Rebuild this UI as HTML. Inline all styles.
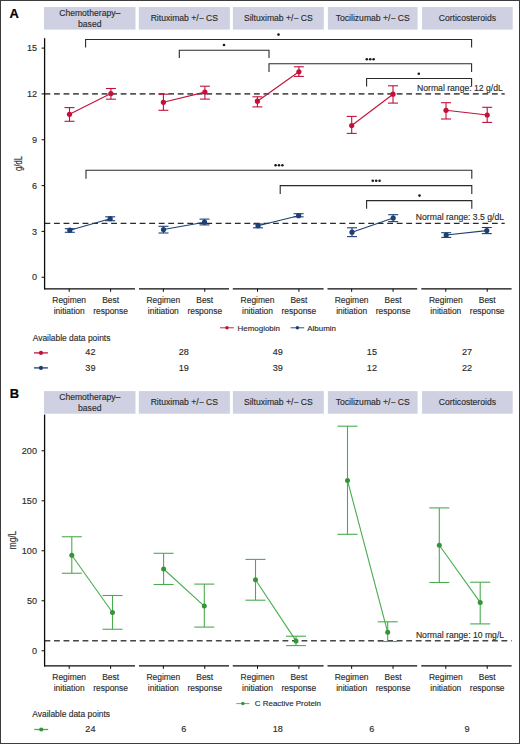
<!DOCTYPE html>
<html><head><meta charset="utf-8"><style>
html,body{margin:0;padding:0;background:#fff;}
.wrap{position:relative;width:520px;height:744px;box-sizing:border-box;border:1px solid #3c3c3c;overflow:hidden;background:#fff;}
svg{position:absolute;left:-1px;top:-1px;}
text{font-family:"Liberation Sans", sans-serif;fill:#2b2b2b;stroke:#2b2b2b;stroke-width:0.14px;}
.st{font-size:8.6px;}
.ax{font-size:8.45px;}
.tk{font-size:9.1px;}
.ttl{font-size:10.8px;}
.lg{font-size:7.95px;}
.nr{font-size:8.65px;}
.lab{font-size:12.9px;font-weight:bold;fill:#000;stroke:#000;stroke-width:0.2px;}
</style></head><body><div class="wrap">
<svg width="520" height="744" viewBox="0 0 520 744">
<text x="9.4" y="17.9" class="lab">A</text>
<rect x="44.00" y="7.05" width="91.50" height="22.55" fill="#cfd1e3"/>
<text x="89.75" y="16.25" text-anchor="middle" class="st">Chemotherapy–</text>
<text x="89.75" y="26.65" text-anchor="middle" class="st">based</text>
<rect x="138.80" y="7.05" width="91.10" height="22.55" fill="#cfd1e3"/>
<text x="184.35" y="20.95" text-anchor="middle" class="st">Rituximab +/− CS</text>
<rect x="232.90" y="7.05" width="90.90" height="22.55" fill="#cfd1e3"/>
<text x="278.35" y="20.95" text-anchor="middle" class="st">Siltuximab +/− CS</text>
<rect x="327.90" y="7.05" width="89.70" height="22.55" fill="#cfd1e3"/>
<text x="372.75" y="20.95" text-anchor="middle" class="st">Tocilizumab +/− CS</text>
<rect x="422.00" y="7.05" width="90.70" height="22.55" fill="#cfd1e3"/>
<text x="467.35" y="20.95" text-anchor="middle" class="st">Corticosteroids</text>
<line x1="44.5" y1="93.92" x2="504.7" y2="93.92" stroke="#555" stroke-width="1.6" stroke-dasharray="5.8 3.72"/>
<line x1="44.5" y1="223.35" x2="504.7" y2="223.35" stroke="#2a2a2a" stroke-width="1.2" stroke-dasharray="5.8 3.72"/>
<text x="417" y="90.6" class="nr">Normal range: 12 g/dL</text>
<text x="415.8" y="220.1" class="nr">Normal range: 3.5 g/dL</text>
<path d="M85.6 47.6V39.5H471.6V47.6" fill="none" stroke="#2a2a2a" stroke-width="1.1"/>
<circle cx="278.50" cy="34.6" r="1.3" fill="#1a1a1a"/>
<path d="M179.3 58.0V50.2H269V58.0" fill="none" stroke="#2a2a2a" stroke-width="1.1"/>
<circle cx="224.00" cy="45" r="1.3" fill="#1a1a1a"/>
<path d="M269 72.10000000000001V63.7H471.6V72.10000000000001" fill="none" stroke="#2a2a2a" stroke-width="1.1"/>
<circle cx="366.80" cy="59.3" r="1.3" fill="#1a1a1a"/>
<circle cx="370.20" cy="59.3" r="1.3" fill="#1a1a1a"/>
<circle cx="373.60" cy="59.3" r="1.3" fill="#1a1a1a"/>
<path d="M366.6 86.5V78.5H471.6V86.5" fill="none" stroke="#2a2a2a" stroke-width="1.1"/>
<circle cx="418.80" cy="73.7" r="1.3" fill="#1a1a1a"/>
<path d="M86.0 178.8V170.3H471.8V178.8" fill="none" stroke="#2a2a2a" stroke-width="1.1"/>
<circle cx="275.60" cy="165.2" r="1.3" fill="#1a1a1a"/>
<circle cx="279.00" cy="165.2" r="1.3" fill="#1a1a1a"/>
<circle cx="282.40" cy="165.2" r="1.3" fill="#1a1a1a"/>
<path d="M280.2 194.0V185.6H471.8V194.0" fill="none" stroke="#2a2a2a" stroke-width="1.1"/>
<circle cx="372.80" cy="180.8" r="1.3" fill="#1a1a1a"/>
<circle cx="376.20" cy="180.8" r="1.3" fill="#1a1a1a"/>
<circle cx="379.60" cy="180.8" r="1.3" fill="#1a1a1a"/>
<path d="M366.6 208.79999999999998V200.6H471.8V208.79999999999998" fill="none" stroke="#2a2a2a" stroke-width="1.1"/>
<circle cx="419.50" cy="195.6" r="1.3" fill="#1a1a1a"/>
<line x1="69.50" y1="107.6" x2="69.50" y2="121.3" stroke="#c3103a" stroke-width="1.1"/>
<line x1="64.50" y1="107.6" x2="74.50" y2="107.6" stroke="#c3103a" stroke-width="1.1"/>
<line x1="64.50" y1="121.3" x2="74.50" y2="121.3" stroke="#c3103a" stroke-width="1.1"/>
<line x1="110.90" y1="88.5" x2="110.90" y2="99.2" stroke="#c3103a" stroke-width="1.1"/>
<line x1="105.90" y1="88.5" x2="115.90" y2="88.5" stroke="#c3103a" stroke-width="1.1"/>
<line x1="105.90" y1="99.2" x2="115.90" y2="99.2" stroke="#c3103a" stroke-width="1.1"/>
<line x1="69.50" y1="114.3" x2="110.90" y2="93.6" stroke="#c3103a" stroke-width="1.1"/>
<circle cx="69.50" cy="114.3" r="2.6" fill="#c3103a"/>
<circle cx="110.90" cy="93.6" r="2.6" fill="#c3103a"/>
<line x1="163.40" y1="94.2" x2="163.40" y2="110.3" stroke="#c3103a" stroke-width="1.1"/>
<line x1="158.40" y1="94.2" x2="168.40" y2="94.2" stroke="#c3103a" stroke-width="1.1"/>
<line x1="158.40" y1="110.3" x2="168.40" y2="110.3" stroke="#c3103a" stroke-width="1.1"/>
<line x1="204.90" y1="86.2" x2="204.90" y2="99.1" stroke="#c3103a" stroke-width="1.1"/>
<line x1="199.90" y1="86.2" x2="209.90" y2="86.2" stroke="#c3103a" stroke-width="1.1"/>
<line x1="199.90" y1="99.1" x2="209.90" y2="99.1" stroke="#c3103a" stroke-width="1.1"/>
<line x1="163.40" y1="102.3" x2="204.90" y2="92.1" stroke="#c3103a" stroke-width="1.1"/>
<circle cx="163.40" cy="102.3" r="2.6" fill="#c3103a"/>
<circle cx="204.90" cy="92.1" r="2.6" fill="#c3103a"/>
<line x1="257.40" y1="96.8" x2="257.40" y2="106.9" stroke="#c3103a" stroke-width="1.1"/>
<line x1="252.40" y1="96.8" x2="262.40" y2="96.8" stroke="#c3103a" stroke-width="1.1"/>
<line x1="252.40" y1="106.9" x2="262.40" y2="106.9" stroke="#c3103a" stroke-width="1.1"/>
<line x1="298.90" y1="66.8" x2="298.90" y2="76.4" stroke="#c3103a" stroke-width="1.1"/>
<line x1="293.90" y1="66.8" x2="303.90" y2="66.8" stroke="#c3103a" stroke-width="1.1"/>
<line x1="293.90" y1="76.4" x2="303.90" y2="76.4" stroke="#c3103a" stroke-width="1.1"/>
<line x1="257.40" y1="101.2" x2="298.90" y2="71.8" stroke="#c3103a" stroke-width="1.1"/>
<circle cx="257.40" cy="101.2" r="2.6" fill="#c3103a"/>
<circle cx="298.90" cy="71.8" r="2.6" fill="#c3103a"/>
<line x1="351.70" y1="116.4" x2="351.70" y2="133.4" stroke="#c3103a" stroke-width="1.1"/>
<line x1="346.70" y1="116.4" x2="356.70" y2="116.4" stroke="#c3103a" stroke-width="1.1"/>
<line x1="346.70" y1="133.4" x2="356.70" y2="133.4" stroke="#c3103a" stroke-width="1.1"/>
<line x1="393.00" y1="85.8" x2="393.00" y2="103.1" stroke="#c3103a" stroke-width="1.1"/>
<line x1="388.00" y1="85.8" x2="398.00" y2="85.8" stroke="#c3103a" stroke-width="1.1"/>
<line x1="388.00" y1="103.1" x2="398.00" y2="103.1" stroke="#c3103a" stroke-width="1.1"/>
<line x1="351.70" y1="125.5" x2="393.00" y2="94.2" stroke="#c3103a" stroke-width="1.1"/>
<circle cx="351.70" cy="125.5" r="2.6" fill="#c3103a"/>
<circle cx="393.00" cy="94.2" r="2.6" fill="#c3103a"/>
<line x1="446.00" y1="102.7" x2="446.00" y2="119" stroke="#c3103a" stroke-width="1.1"/>
<line x1="441.00" y1="102.7" x2="451.00" y2="102.7" stroke="#c3103a" stroke-width="1.1"/>
<line x1="441.00" y1="119" x2="451.00" y2="119" stroke="#c3103a" stroke-width="1.1"/>
<line x1="487.20" y1="107.3" x2="487.20" y2="122.4" stroke="#c3103a" stroke-width="1.1"/>
<line x1="482.20" y1="107.3" x2="492.20" y2="107.3" stroke="#c3103a" stroke-width="1.1"/>
<line x1="482.20" y1="122.4" x2="492.20" y2="122.4" stroke="#c3103a" stroke-width="1.1"/>
<line x1="446.00" y1="110.3" x2="487.20" y2="115" stroke="#c3103a" stroke-width="1.1"/>
<circle cx="446.00" cy="110.3" r="2.6" fill="#c3103a"/>
<circle cx="487.20" cy="115" r="2.6" fill="#c3103a"/>
<line x1="69.80" y1="228.7" x2="69.80" y2="232.3" stroke="#1e3f76" stroke-width="1.1"/>
<line x1="64.80" y1="228.7" x2="74.80" y2="228.7" stroke="#1e3f76" stroke-width="1.1"/>
<line x1="64.80" y1="232.3" x2="74.80" y2="232.3" stroke="#1e3f76" stroke-width="1.1"/>
<line x1="110.20" y1="216.8" x2="110.20" y2="220.7" stroke="#1e3f76" stroke-width="1.1"/>
<line x1="105.20" y1="216.8" x2="115.20" y2="216.8" stroke="#1e3f76" stroke-width="1.1"/>
<line x1="105.20" y1="220.7" x2="115.20" y2="220.7" stroke="#1e3f76" stroke-width="1.1"/>
<line x1="69.80" y1="230.2" x2="110.20" y2="218.7" stroke="#1e3f76" stroke-width="1.1"/>
<circle cx="69.80" cy="230.2" r="2.6" fill="#1e3f76"/>
<circle cx="110.20" cy="218.7" r="2.6" fill="#1e3f76"/>
<line x1="163.50" y1="226.3" x2="163.50" y2="233" stroke="#1e3f76" stroke-width="1.1"/>
<line x1="158.50" y1="226.3" x2="168.50" y2="226.3" stroke="#1e3f76" stroke-width="1.1"/>
<line x1="158.50" y1="233" x2="168.50" y2="233" stroke="#1e3f76" stroke-width="1.1"/>
<line x1="204.50" y1="219.1" x2="204.50" y2="224.9" stroke="#1e3f76" stroke-width="1.1"/>
<line x1="199.50" y1="219.1" x2="209.50" y2="219.1" stroke="#1e3f76" stroke-width="1.1"/>
<line x1="199.50" y1="224.9" x2="209.50" y2="224.9" stroke="#1e3f76" stroke-width="1.1"/>
<line x1="163.50" y1="229.5" x2="204.50" y2="222.2" stroke="#1e3f76" stroke-width="1.1"/>
<circle cx="163.50" cy="229.5" r="2.6" fill="#1e3f76"/>
<circle cx="204.50" cy="222.2" r="2.6" fill="#1e3f76"/>
<line x1="258.00" y1="224" x2="258.00" y2="227.8" stroke="#1e3f76" stroke-width="1.1"/>
<line x1="253.00" y1="224" x2="263.00" y2="224" stroke="#1e3f76" stroke-width="1.1"/>
<line x1="253.00" y1="227.8" x2="263.00" y2="227.8" stroke="#1e3f76" stroke-width="1.1"/>
<line x1="298.60" y1="213.7" x2="298.60" y2="216.8" stroke="#1e3f76" stroke-width="1.1"/>
<line x1="293.60" y1="213.7" x2="303.60" y2="213.7" stroke="#1e3f76" stroke-width="1.1"/>
<line x1="293.60" y1="216.8" x2="303.60" y2="216.8" stroke="#1e3f76" stroke-width="1.1"/>
<line x1="258.00" y1="225.7" x2="298.60" y2="215.7" stroke="#1e3f76" stroke-width="1.1"/>
<circle cx="258.00" cy="225.7" r="2.6" fill="#1e3f76"/>
<circle cx="298.60" cy="215.7" r="2.6" fill="#1e3f76"/>
<line x1="352.00" y1="227.8" x2="352.00" y2="236.6" stroke="#1e3f76" stroke-width="1.1"/>
<line x1="347.00" y1="227.8" x2="357.00" y2="227.8" stroke="#1e3f76" stroke-width="1.1"/>
<line x1="347.00" y1="236.6" x2="357.00" y2="236.6" stroke="#1e3f76" stroke-width="1.1"/>
<line x1="393.20" y1="214.7" x2="393.20" y2="221.6" stroke="#1e3f76" stroke-width="1.1"/>
<line x1="388.20" y1="214.7" x2="398.20" y2="214.7" stroke="#1e3f76" stroke-width="1.1"/>
<line x1="388.20" y1="221.6" x2="398.20" y2="221.6" stroke="#1e3f76" stroke-width="1.1"/>
<line x1="352.00" y1="232.2" x2="393.20" y2="218" stroke="#1e3f76" stroke-width="1.1"/>
<circle cx="352.00" cy="232.2" r="2.6" fill="#1e3f76"/>
<circle cx="393.20" cy="218" r="2.6" fill="#1e3f76"/>
<line x1="446.20" y1="232.7" x2="446.20" y2="237.4" stroke="#1e3f76" stroke-width="1.1"/>
<line x1="441.20" y1="232.7" x2="451.20" y2="232.7" stroke="#1e3f76" stroke-width="1.1"/>
<line x1="441.20" y1="237.4" x2="451.20" y2="237.4" stroke="#1e3f76" stroke-width="1.1"/>
<line x1="486.80" y1="227.5" x2="486.80" y2="233.6" stroke="#1e3f76" stroke-width="1.1"/>
<line x1="481.80" y1="227.5" x2="491.80" y2="227.5" stroke="#1e3f76" stroke-width="1.1"/>
<line x1="481.80" y1="233.6" x2="491.80" y2="233.6" stroke="#1e3f76" stroke-width="1.1"/>
<line x1="446.20" y1="235.0" x2="486.80" y2="230.6" stroke="#1e3f76" stroke-width="1.1"/>
<circle cx="446.20" cy="235.0" r="2.6" fill="#1e3f76"/>
<circle cx="486.80" cy="230.6" r="2.6" fill="#1e3f76"/>
<line x1="41.60" y1="48.1" x2="44.60" y2="48.1" stroke="#0a0a0a" stroke-width="1"/>
<text x="37.00" y="51.20" text-anchor="end" class="tk">15</text>
<line x1="41.60" y1="93.92" x2="44.60" y2="93.92" stroke="#0a0a0a" stroke-width="1"/>
<text x="37.00" y="97.02" text-anchor="end" class="tk">12</text>
<line x1="41.60" y1="139.75" x2="44.60" y2="139.75" stroke="#0a0a0a" stroke-width="1"/>
<text x="37.00" y="142.85" text-anchor="end" class="tk">9</text>
<line x1="41.60" y1="185.6" x2="44.60" y2="185.6" stroke="#0a0a0a" stroke-width="1"/>
<text x="37.00" y="188.70" text-anchor="end" class="tk">6</text>
<line x1="41.60" y1="231.4" x2="44.60" y2="231.4" stroke="#0a0a0a" stroke-width="1"/>
<text x="37.00" y="234.50" text-anchor="end" class="tk">3</text>
<line x1="41.60" y1="277.25" x2="44.60" y2="277.25" stroke="#0a0a0a" stroke-width="1"/>
<text x="37.00" y="280.35" text-anchor="end" class="tk">0</text>
<line x1="44.6" y1="38.2" x2="44.6" y2="289.45" stroke="#0a0a0a" stroke-width="1.3"/>
<line x1="44.30" y1="288.8" x2="135.00" y2="288.8" stroke="#0a0a0a" stroke-width="1.3"/>
<line x1="69.20" y1="288.8" x2="69.20" y2="291.8" stroke="#0a0a0a" stroke-width="1"/>
<line x1="110.60" y1="288.8" x2="110.60" y2="291.8" stroke="#0a0a0a" stroke-width="1"/>
<text x="69.20" y="303.25" text-anchor="middle" class="ax">Regimen</text>
<text x="69.20" y="313.75" text-anchor="middle" class="ax">initiation</text>
<text x="110.60" y="303.25" text-anchor="middle" class="ax">Best</text>
<text x="110.60" y="313.75" text-anchor="middle" class="ax">response</text>
<line x1="139.00" y1="288.8" x2="229.00" y2="288.8" stroke="#0a0a0a" stroke-width="1.3"/>
<line x1="163.35" y1="288.8" x2="163.35" y2="291.8" stroke="#0a0a0a" stroke-width="1"/>
<line x1="204.75" y1="288.8" x2="204.75" y2="291.8" stroke="#0a0a0a" stroke-width="1"/>
<text x="163.35" y="303.25" text-anchor="middle" class="ax">Regimen</text>
<text x="163.35" y="313.75" text-anchor="middle" class="ax">initiation</text>
<text x="204.75" y="303.25" text-anchor="middle" class="ax">Best</text>
<text x="204.75" y="313.75" text-anchor="middle" class="ax">response</text>
<line x1="232.80" y1="288.8" x2="323.60" y2="288.8" stroke="#0a0a0a" stroke-width="1.3"/>
<line x1="257.50" y1="288.8" x2="257.50" y2="291.8" stroke="#0a0a0a" stroke-width="1"/>
<line x1="298.90" y1="288.8" x2="298.90" y2="291.8" stroke="#0a0a0a" stroke-width="1"/>
<text x="257.50" y="303.25" text-anchor="middle" class="ax">Regimen</text>
<text x="257.50" y="313.75" text-anchor="middle" class="ax">initiation</text>
<text x="298.90" y="303.25" text-anchor="middle" class="ax">Best</text>
<text x="298.90" y="313.75" text-anchor="middle" class="ax">response</text>
<line x1="327.50" y1="288.8" x2="417.20" y2="288.8" stroke="#0a0a0a" stroke-width="1.3"/>
<line x1="351.65" y1="288.8" x2="351.65" y2="291.8" stroke="#0a0a0a" stroke-width="1"/>
<line x1="393.05" y1="288.8" x2="393.05" y2="291.8" stroke="#0a0a0a" stroke-width="1"/>
<text x="351.65" y="303.25" text-anchor="middle" class="ax">Regimen</text>
<text x="351.65" y="313.75" text-anchor="middle" class="ax">initiation</text>
<text x="393.05" y="303.25" text-anchor="middle" class="ax">Best</text>
<text x="393.05" y="313.75" text-anchor="middle" class="ax">response</text>
<line x1="421.30" y1="288.8" x2="511.60" y2="288.8" stroke="#0a0a0a" stroke-width="1.3"/>
<line x1="445.80" y1="288.8" x2="445.80" y2="291.8" stroke="#0a0a0a" stroke-width="1"/>
<line x1="487.20" y1="288.8" x2="487.20" y2="291.8" stroke="#0a0a0a" stroke-width="1"/>
<text x="445.80" y="303.25" text-anchor="middle" class="ax">Regimen</text>
<text x="445.80" y="313.75" text-anchor="middle" class="ax">initiation</text>
<text x="487.20" y="303.25" text-anchor="middle" class="ax">Best</text>
<text x="487.20" y="313.75" text-anchor="middle" class="ax">response</text>
<text transform="translate(22.1,163.5) rotate(-90) scale(0.72,1)" text-anchor="middle" class="ttl">g/dL</text>
<line x1="220" y1="327.8" x2="233.9" y2="327.8" stroke="#c3103a" stroke-width="0.9"/><circle cx="226.95" cy="327.8" r="1.75" fill="#c3103a"/>
<text x="237.6" y="330.6" class="lg">Hemoglobin</text>
<line x1="290.6" y1="327.8" x2="304.2" y2="327.8" stroke="#1e3f76" stroke-width="0.9"/><circle cx="297.40" cy="327.8" r="1.75" fill="#1e3f76"/>
<text x="307.3" y="330.6" class="lg">Albumin</text>
<text x="32.7" y="340.7" class="ax">Available data points</text>
<line x1="34" y1="352.9" x2="47.9" y2="352.9" stroke="#c3103a" stroke-width="1.3"/><circle cx="40.95" cy="352.9" r="2.1" fill="#c3103a"/>
<line x1="34" y1="367.9" x2="47.9" y2="367.9" stroke="#1e3f76" stroke-width="1.3"/><circle cx="40.95" cy="367.9" r="2.1" fill="#1e3f76"/>
<text x="90.40" y="355.2" text-anchor="middle" class="tk">42</text>
<text x="90.40" y="371.3" text-anchor="middle" class="tk">39</text>
<text x="183.80" y="355.2" text-anchor="middle" class="tk">28</text>
<text x="183.80" y="371.3" text-anchor="middle" class="tk">19</text>
<text x="277.80" y="355.2" text-anchor="middle" class="tk">49</text>
<text x="277.80" y="371.3" text-anchor="middle" class="tk">39</text>
<text x="371.90" y="355.2" text-anchor="middle" class="tk">15</text>
<text x="371.90" y="371.3" text-anchor="middle" class="tk">12</text>
<text x="467.00" y="355.2" text-anchor="middle" class="tk">27</text>
<text x="467.00" y="371.3" text-anchor="middle" class="tk">22</text>
<text x="9.7" y="398.4" class="lab">B</text>
<rect x="44.00" y="391.1" width="91.50" height="22.599999999999966" fill="#cfd1e3"/>
<text x="89.75" y="400.30" text-anchor="middle" class="st">Chemotherapy–</text>
<text x="89.75" y="410.70" text-anchor="middle" class="st">based</text>
<rect x="138.80" y="391.1" width="91.10" height="22.599999999999966" fill="#cfd1e3"/>
<text x="184.35" y="405.00" text-anchor="middle" class="st">Rituximab +/− CS</text>
<rect x="232.90" y="391.1" width="90.90" height="22.599999999999966" fill="#cfd1e3"/>
<text x="278.35" y="405.00" text-anchor="middle" class="st">Siltuximab +/− CS</text>
<rect x="327.90" y="391.1" width="89.70" height="22.599999999999966" fill="#cfd1e3"/>
<text x="372.75" y="405.00" text-anchor="middle" class="st">Tocilizumab +/− CS</text>
<rect x="422.00" y="391.1" width="90.70" height="22.599999999999966" fill="#cfd1e3"/>
<text x="467.35" y="405.00" text-anchor="middle" class="st">Corticosteroids</text>
<line x1="44.5" y1="640.8" x2="511.6" y2="640.8" stroke="#454545" stroke-width="1.45" stroke-dasharray="5.8 3.72"/>
<text x="415.9" y="638.3" class="nr">Normal range: 10 mg/L</text>
<line x1="71.80" y1="536.75" x2="71.80" y2="573.25" stroke="#4aab4f" stroke-width="1.1"/>
<line x1="61.80" y1="536.75" x2="81.80" y2="536.75" stroke="#4aab4f" stroke-width="1.1"/>
<line x1="61.80" y1="573.25" x2="81.80" y2="573.25" stroke="#4aab4f" stroke-width="1.1"/>
<line x1="112.50" y1="595.5" x2="112.50" y2="629.25" stroke="#4aab4f" stroke-width="1.1"/>
<line x1="102.50" y1="595.5" x2="122.50" y2="595.5" stroke="#4aab4f" stroke-width="1.1"/>
<line x1="102.50" y1="629.25" x2="122.50" y2="629.25" stroke="#4aab4f" stroke-width="1.1"/>
<line x1="71.80" y1="555.2" x2="112.50" y2="612.5" stroke="#4aab4f" stroke-width="1.1"/>
<circle cx="71.80" cy="555.2" r="2.5" fill="#33953a"/>
<circle cx="112.50" cy="612.5" r="2.5" fill="#33953a"/>
<line x1="163.60" y1="553.3" x2="163.60" y2="584.5" stroke="#4aab4f" stroke-width="1.1"/>
<line x1="153.60" y1="553.3" x2="173.60" y2="553.3" stroke="#4aab4f" stroke-width="1.1"/>
<line x1="153.60" y1="584.5" x2="173.60" y2="584.5" stroke="#4aab4f" stroke-width="1.1"/>
<line x1="204.30" y1="584.1" x2="204.30" y2="627.1" stroke="#4aab4f" stroke-width="1.1"/>
<line x1="194.30" y1="584.1" x2="214.30" y2="584.1" stroke="#4aab4f" stroke-width="1.1"/>
<line x1="194.30" y1="627.1" x2="214.30" y2="627.1" stroke="#4aab4f" stroke-width="1.1"/>
<line x1="163.60" y1="569" x2="204.30" y2="606.1" stroke="#4aab4f" stroke-width="1.1"/>
<circle cx="163.60" cy="569" r="2.5" fill="#33953a"/>
<circle cx="204.30" cy="606.1" r="2.5" fill="#33953a"/>
<line x1="255.50" y1="559.4" x2="255.50" y2="600.2" stroke="#4aab4f" stroke-width="1.1"/>
<line x1="245.50" y1="559.4" x2="265.50" y2="559.4" stroke="#4aab4f" stroke-width="1.1"/>
<line x1="245.50" y1="600.2" x2="265.50" y2="600.2" stroke="#4aab4f" stroke-width="1.1"/>
<line x1="296.00" y1="636.2" x2="296.00" y2="645.6" stroke="#4aab4f" stroke-width="1.1"/>
<line x1="286.00" y1="636.2" x2="306.00" y2="636.2" stroke="#4aab4f" stroke-width="1.1"/>
<line x1="286.00" y1="645.6" x2="306.00" y2="645.6" stroke="#4aab4f" stroke-width="1.1"/>
<line x1="255.50" y1="579.8" x2="296.00" y2="640.9" stroke="#4aab4f" stroke-width="1.1"/>
<circle cx="255.50" cy="579.8" r="2.5" fill="#33953a"/>
<circle cx="296.00" cy="640.9" r="2.5" fill="#33953a"/>
<line x1="347.50" y1="426.2" x2="347.50" y2="534.3" stroke="#4aab4f" stroke-width="1.1"/>
<line x1="337.50" y1="426.2" x2="357.50" y2="426.2" stroke="#4aab4f" stroke-width="1.1"/>
<line x1="337.50" y1="534.3" x2="357.50" y2="534.3" stroke="#4aab4f" stroke-width="1.1"/>
<line x1="387.70" y1="621.8" x2="387.70" y2="641.5" stroke="#4aab4f" stroke-width="1.1"/>
<line x1="377.70" y1="621.8" x2="397.70" y2="621.8" stroke="#4aab4f" stroke-width="1.1"/>
<line x1="377.70" y1="641.5" x2="397.70" y2="641.5" stroke="#4aab4f" stroke-width="1.1"/>
<line x1="347.50" y1="480.4" x2="387.70" y2="632.3" stroke="#4aab4f" stroke-width="1.1"/>
<circle cx="347.50" cy="480.4" r="2.5" fill="#33953a"/>
<circle cx="387.70" cy="632.3" r="2.5" fill="#33953a"/>
<line x1="439.30" y1="507.9" x2="439.30" y2="582.5" stroke="#4aab4f" stroke-width="1.1"/>
<line x1="429.30" y1="507.9" x2="449.30" y2="507.9" stroke="#4aab4f" stroke-width="1.1"/>
<line x1="429.30" y1="582.5" x2="449.30" y2="582.5" stroke="#4aab4f" stroke-width="1.1"/>
<line x1="480.20" y1="582.2" x2="480.20" y2="623.9" stroke="#4aab4f" stroke-width="1.1"/>
<line x1="470.20" y1="582.2" x2="490.20" y2="582.2" stroke="#4aab4f" stroke-width="1.1"/>
<line x1="470.20" y1="623.9" x2="490.20" y2="623.9" stroke="#4aab4f" stroke-width="1.1"/>
<line x1="439.30" y1="545.2" x2="480.20" y2="602.4" stroke="#4aab4f" stroke-width="1.1"/>
<circle cx="439.30" cy="545.2" r="2.5" fill="#33953a"/>
<circle cx="480.20" cy="602.4" r="2.5" fill="#33953a"/>
<line x1="41.60" y1="450.75" x2="44.60" y2="450.75" stroke="#0a0a0a" stroke-width="1"/>
<text x="37.00" y="453.85" text-anchor="end" class="tk">200</text>
<line x1="41.60" y1="500.75" x2="44.60" y2="500.75" stroke="#0a0a0a" stroke-width="1"/>
<text x="37.00" y="503.85" text-anchor="end" class="tk">150</text>
<line x1="41.60" y1="550.75" x2="44.60" y2="550.75" stroke="#0a0a0a" stroke-width="1"/>
<text x="37.00" y="553.85" text-anchor="end" class="tk">100</text>
<line x1="41.60" y1="600.75" x2="44.60" y2="600.75" stroke="#0a0a0a" stroke-width="1"/>
<text x="37.00" y="603.85" text-anchor="end" class="tk">50</text>
<line x1="41.60" y1="650.75" x2="44.60" y2="650.75" stroke="#0a0a0a" stroke-width="1"/>
<text x="37.00" y="653.85" text-anchor="end" class="tk">0</text>
<line x1="44.6" y1="414.6" x2="44.6" y2="666.55" stroke="#0a0a0a" stroke-width="1.3"/>
<line x1="44.30" y1="665.9" x2="135.00" y2="665.9" stroke="#0a0a0a" stroke-width="1.3"/>
<line x1="69.20" y1="665.9" x2="69.20" y2="668.9" stroke="#0a0a0a" stroke-width="1"/>
<line x1="110.60" y1="665.9" x2="110.60" y2="668.9" stroke="#0a0a0a" stroke-width="1"/>
<text x="69.20" y="680.35" text-anchor="middle" class="ax">Regimen</text>
<text x="69.20" y="690.85" text-anchor="middle" class="ax">initiation</text>
<text x="110.60" y="680.35" text-anchor="middle" class="ax">Best</text>
<text x="110.60" y="690.85" text-anchor="middle" class="ax">response</text>
<line x1="139.00" y1="665.9" x2="229.00" y2="665.9" stroke="#0a0a0a" stroke-width="1.3"/>
<line x1="163.35" y1="665.9" x2="163.35" y2="668.9" stroke="#0a0a0a" stroke-width="1"/>
<line x1="204.75" y1="665.9" x2="204.75" y2="668.9" stroke="#0a0a0a" stroke-width="1"/>
<text x="163.35" y="680.35" text-anchor="middle" class="ax">Regimen</text>
<text x="163.35" y="690.85" text-anchor="middle" class="ax">initiation</text>
<text x="204.75" y="680.35" text-anchor="middle" class="ax">Best</text>
<text x="204.75" y="690.85" text-anchor="middle" class="ax">response</text>
<line x1="232.80" y1="665.9" x2="323.60" y2="665.9" stroke="#0a0a0a" stroke-width="1.3"/>
<line x1="257.50" y1="665.9" x2="257.50" y2="668.9" stroke="#0a0a0a" stroke-width="1"/>
<line x1="298.90" y1="665.9" x2="298.90" y2="668.9" stroke="#0a0a0a" stroke-width="1"/>
<text x="257.50" y="680.35" text-anchor="middle" class="ax">Regimen</text>
<text x="257.50" y="690.85" text-anchor="middle" class="ax">initiation</text>
<text x="298.90" y="680.35" text-anchor="middle" class="ax">Best</text>
<text x="298.90" y="690.85" text-anchor="middle" class="ax">response</text>
<line x1="327.50" y1="665.9" x2="417.20" y2="665.9" stroke="#0a0a0a" stroke-width="1.3"/>
<line x1="351.65" y1="665.9" x2="351.65" y2="668.9" stroke="#0a0a0a" stroke-width="1"/>
<line x1="393.05" y1="665.9" x2="393.05" y2="668.9" stroke="#0a0a0a" stroke-width="1"/>
<text x="351.65" y="680.35" text-anchor="middle" class="ax">Regimen</text>
<text x="351.65" y="690.85" text-anchor="middle" class="ax">initiation</text>
<text x="393.05" y="680.35" text-anchor="middle" class="ax">Best</text>
<text x="393.05" y="690.85" text-anchor="middle" class="ax">response</text>
<line x1="421.30" y1="665.9" x2="511.60" y2="665.9" stroke="#0a0a0a" stroke-width="1.3"/>
<line x1="445.80" y1="665.9" x2="445.80" y2="668.9" stroke="#0a0a0a" stroke-width="1"/>
<line x1="487.20" y1="665.9" x2="487.20" y2="668.9" stroke="#0a0a0a" stroke-width="1"/>
<text x="445.80" y="680.35" text-anchor="middle" class="ax">Regimen</text>
<text x="445.80" y="690.85" text-anchor="middle" class="ax">initiation</text>
<text x="487.20" y="680.35" text-anchor="middle" class="ax">Best</text>
<text x="487.20" y="690.85" text-anchor="middle" class="ax">response</text>
<text transform="translate(16.3,540) rotate(-90) scale(0.77,1)" text-anchor="middle" class="ttl">mg/L</text>
<line x1="236.3" y1="703.6" x2="249.4" y2="703.6" stroke="#4aab4f" stroke-width="0.9"/><circle cx="242.85" cy="703.6" r="1.75" fill="#33953a"/>
<text x="254.8" y="706.3" class="lg">C Reactive Protein</text>
<text x="32.3" y="717.4" class="ax">Available data points</text>
<line x1="34.3" y1="729.5" x2="48.2" y2="729.5" stroke="#4aab4f" stroke-width="1.3"/><circle cx="41.25" cy="729.5" r="2.1" fill="#33953a"/>
<text x="90.40" y="731.7" text-anchor="middle" class="tk">24</text>
<text x="183.80" y="731.7" text-anchor="middle" class="tk">6</text>
<text x="277.80" y="731.7" text-anchor="middle" class="tk">18</text>
<text x="371.90" y="731.7" text-anchor="middle" class="tk">6</text>
<text x="467.00" y="731.7" text-anchor="middle" class="tk">9</text>
</svg></div></body></html>
